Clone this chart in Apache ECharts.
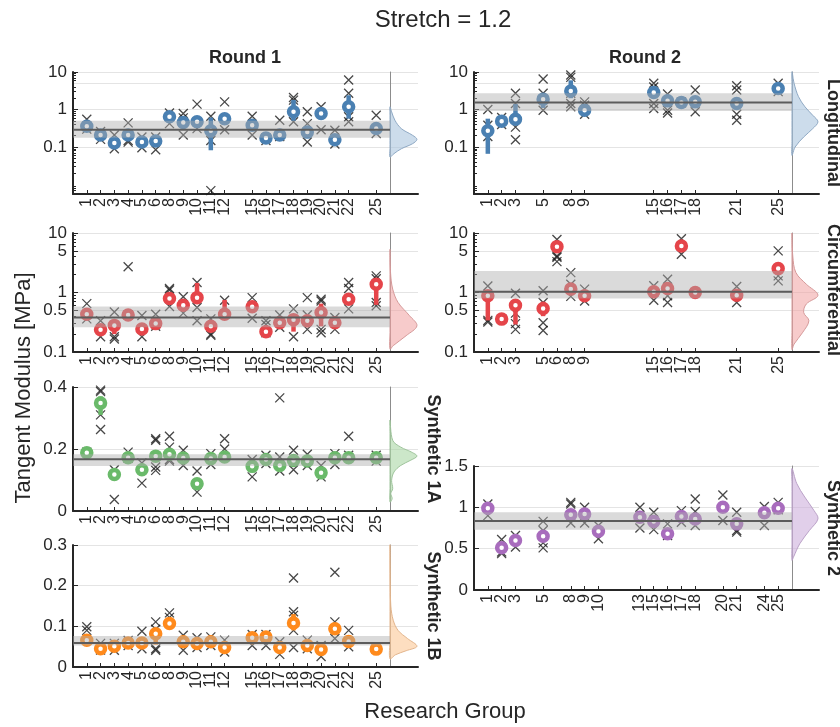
<!DOCTYPE html>
<html><head><meta charset="utf-8">
<script src="https://cdn.jsdelivr.net/npm/echarts@6/dist/echarts.min.js"></script>
<style>html,body{margin:0;padding:0;background:#fff}#c{width:840px;height:727px}</style>
</head><body><div id="c"></div>
<script>
// ---------------- DATA ----------------
const categories = ['1','2','3','4','5','6','8','9','10','11','12','13','15','16','17','18','19','20','21','22','24','25'];

const round1Groups = ['1','2','3','4','5','6','8','9','10','11','12','15','16','17','18','19','20','21','22','25'];
const round2LongGroups = ['1','2','3','5','8','9','15','16','17','18','21','25'];
const round2CircGroups = ['1','2','3','5','6','8','9','15','16','17','18','21','25'];
const synth2Groups = ['1','2','3','5','8','9','10','13','15','16','17','18','20','21','24','25'];

const logTicksLong = [0.1, 1, 5, 10];
const logTicksCirc = [0.1, 0.5, 1, 5, 10];

// Round 1 - Longitudinal
const r1LongMeans = [0.36,0.21,0.128,0.21,0.136,0.145,0.64,0.45,0.47,0.27,0.57,0.38,0.174,0.21,0.87,0.25,0.78,0.157,1.18,0.31];
const r1LongSamples = [[0.55,0.30,0.36],[0.26,0.16],[0.21,0.09],[0.44,0.15,0.135],[0.185,0.096],[0.185,0.085],[0.81,0.42],[0.78,0.6,0.21],[1.39,0.31],[0.66,0.15,0.0069],[1.6,0.29],[0.66,0.21],[0.174,0.15],[0.52,0.19],[2.1,1.78,0.47],[0.87,0.42,0.136],[1.18,0.29],[0.28,0.12],[6.1,2.7,0.64,0.47],[0.7,0.23]];
const r1LongBars = [['11',0.082,0.61],['18',0.5,1.8],['22',0.57,2.4]];
const r1LongBand = [0.178, 0.29, 0.50];
const r1LongViolin = [[1.18,0],[0.87,0.06],[0.52,0.18],[0.31,0.42],[0.205,0.84],[0.16,1],[0.123,0.84],[0.09,0.42],[0.066,0.14],[0.054,0]];

// Round 2 - Longitudinal
const r2LongMeans = [0.27,0.49,0.55,1.89,3.1,0.96,2.85,1.7,1.54,1.6,1.45,3.65];
const r2LongSamples = [[1.0,0.38,0.19],[0.61,0.4],[2.7,1.45,0.34,0.157],[6.5,2.7,0.96],[8.3,7.2,2.7,1.45,1.18],[1.6,1.3,0.75],[5.0,4.0,1.45,1.06],[2.6,0.96,0.81],[1.6,1.5],[3.3,0.87],[4.3,3.3,0.75,0.52],[5.0,3.0]];
const r2LongBars = [['1',0.066,0.57],['3',0.5,1.4],['5',1.1,2.0],['8',2.0,6.0]];
const r2LongBand = [0.92, 1.54, 2.7];
const r2LongViolin = [[10.2,0],[5,0.08],[2.2,0.25],[1.18,0.5],[0.7,0.8],[0.47,1],[0.31,0.8],[0.185,0.45],[0.1,0.12],[0.06,0]];

// Round 1 - Circumferential
const r1CircMeans = [0.43,0.237,0.28,0.42,0.243,0.30,0.79,0.61,0.82,0.27,0.43,0.575,0.22,0.31,0.35,0.335,0.46,0.31,0.77,1.38];
const r1CircSamples = [[0.65,0.36],[0.335,0.18],[0.47,0.18,0.165],[2.7,0.42],[0.41,0.18],[0.43,0.27],[1.17,1.1,0.58],[0.85,0.45],[1.47,0.56,0.335],[0.36,0.2,0.19],[0.74,0.43],[0.82,0.37],[0.335,0.29,0.21],[0.42,0.26],[0.53,0.18],[0.82,0.42,0.24],[0.77,0.72,0.24,0.21],[0.38,0.24],[1.47,1.17,0.53],[1.9,1.7,0.68,0.6]];
const r1CircBars = [['3',0.2,0.28],['10',0.82,1.45],['12',0.43,0.75],['18',0.22,0.35],['20',0.27,0.65],['25',0.62,1.38]];
const r1CircBand = [0.26, 0.38, 0.58];
const r1CircViolin = [[5.3,0],[2.16,0.02],[1.14,0.1],[0.68,0.3],[0.41,0.72],[0.276,1],[0.188,0.6],[0.128,0.12],[0.112,0]];

// Round 2 - Circumferential
const r2CircMeans = [0.88,0.357,0.61,0.54,5.9,1.14,0.88,1.03,1.17,6.05,1.0,0.9,2.52];
const r2CircSamples = [[1.29,0.34,0.32],[0.36],[0.97,0.45,0.3,0.24],[1.07,0.68,0.31,0.23],[7.8,4.1,3.9,3.3],[2.16,1.38,0.86],[1.14,0.72],[1.3,0.74],[1.67,0.88,0.68],[8.0,4.4],[1.0],[1.26,0.68],[5.0,1.9,1.57]];
const r2CircBars = [['1',0.34,0.88],['3',0.29,0.61],['5',0.4,0.7]];
const r2CircBand = [0.79, 1.03, 2.3];
const r2CircViolin = [[10,0],[4.1,0.03],[2.16,0.15],[1.38,0.55],[0.9,1],[0.64,0.55],[0.46,0.45],[0.335,0.65],[0.21,0.4],[0.136,0.08],[0.11,0]];

// Round 1 - Synthetic 1A
const s1aMeans = [0.188,0.348,0.118,0.172,0.133,0.177,0.183,0.171,0.088,0.169,0.174,0.144,0.166,0.147,0.163,0.161,0.123,0.172,0.172,0.172];
const s1aSamples = [[0.19],[0.39,0.385,0.31,0.263],[0.133,0.037],[0.19,0.17],[0.155,0.09],[0.233,0.228,0.142,0.131],[0.241,0.206,0.166,0.161],[0.196,0.147],[0.129,0.061],[0.185,0.15],[0.233,0.2],[0.166,0.11],[0.18,0.153],[0.365,0.174,0.129],[0.196,0.133],[0.183,0.147],[0.147,0.11],[0.185,0.15],[0.241,0.18],[0.18,0.161]];
const s1aBars = [['2',0.31,0.37]];
const s1aBand = [0.145, 0.167, 0.183];
const s1aViolin = [[0.293,0],[0.228,0.1],[0.206,0.4],[0.19,0.8],[0.177,1],[0.163,0.75],[0.147,0.4],[0.126,0.15],[0.099,0.06],[0.072,0.1],[0.056,0.03],[0.04,0.08],[0.029,0]];

// Round 1 - Synthetic 1B
const s1bMeans = [0.066,0.045,0.051,0.059,0.059,0.082,0.107,0.062,0.058,0.062,0.048,0.072,0.074,0.048,0.108,0.053,0.043,0.094,0.063,0.044];
const s1bSamples = [[0.099,0.09],[0.058,0.042],[0.058,0.041],[0.065,0.053],[0.088,0.045],[0.111,0.093,0.045,0.041],[0.133,0.122],[0.078,0.041],[0.072,0.048],[0.074,0.053],[0.066,0.037],[0.08,0.053],[0.08,0.053],[0.062,0.031],[0.219,0.136,0.127,0.09,0.048],[0.066,0.045],[0.053,0.026],[0.233,0.111,0.07],[0.09,0.05],[0.044]];
const s1bBars = [['6',0.055,0.082],['18',0.09,0.13]];
const s1bBand = [0.053, 0.059, 0.076];
const s1bViolin = [[0.3,0],[0.2,0.01],[0.15,0.03],[0.115,0.12],[0.09,0.3],[0.07,0.65],[0.051,1],[0.04,0.6],[0.03,0.2],[0.02,0]];

// Round 2 - Synthetic 2
const s2Means = [0.99,0.51,0.60,0.65,0.91,0.92,0.71,0.88,0.83,0.68,0.89,0.86,1.0,0.80,0.935,0.99];
const s2Samples = [[1.04,0.9],[0.61,0.46,0.44],[0.66,0.52],[0.83,0.72,0.57,0.51],[1.06,1.04,0.81],[1.0,0.81],[0.78,0.62],[1.0,0.75],[0.94,0.73],[0.8,0.66],[0.96,0.82],[1.1,0.95,0.78],[1.15,0.84],[0.94,0.72,0.70],[1.01,0.78],[1.06,0.97]];
const s2Bars = [];
const s2Band = [0.73, 0.835, 0.94];
const s2Violin = [[1.47,0],[1.29,0.18],[1.125,0.49],[0.96,0.85],[0.86,1],[0.72,0.67],[0.56,0.3],[0.4,0.06],[0.36,0]];

// ---------------- STYLE / LAYOUT ----------------
const FONT = '"Liberation Sans", Arial, Helvetica, sans-serif';
const INK = '#262626';
const GRIDC = '#e4e4e4';
const COL = {
  blue:   {c:'#4a80b2', f:'rgba(170,196,222,0.6)', e:'#8fa9c4'},
  red:    {c:'#e5454a', f:'rgba(240,160,160,0.55)', e:'#d69a9a'},
  green:  {c:'#6aba6a', f:'rgba(170,215,165,0.6)', e:'#9fc49c'},
  orange: {c:'#ff8a1c', f:'rgba(252,200,150,0.6)', e:'#e3b58c'},
  purple: {c:'#a86cbd', f:'rgba(205,175,220,0.6)', e:'#bba2c8'}
};
const yLong = {type:'log', min:0.0056, max:10, ticks:logTicksLong};
const yCirc = {type:'log', min:0.1, max:10, ticks:logTicksCirc};

const panels = [
  {groups:round1Groups, means:r1LongMeans, samples:r1LongSamples, bars:r1LongBars, band:r1LongBand, violin:r1LongViolin, col:COL.blue, y:yLong, box:[73,72,390,418,194]},
  {groups:round2LongGroups, means:r2LongMeans, samples:r2LongSamples, bars:r2LongBars, band:r2LongBand, violin:r2LongViolin, col:COL.blue, y:yLong, box:[474,72,792,819,194]},
  {groups:round1Groups, means:r1CircMeans, samples:r1CircSamples, bars:r1CircBars, band:r1CircBand, violin:r1CircViolin, col:COL.red, y:yCirc, box:[73,233,390,418,352]},
  {groups:round2CircGroups, means:r2CircMeans, samples:r2CircSamples, bars:r2CircBars, band:r2CircBand, violin:r2CircViolin, col:COL.red, y:yCirc, box:[474,233,792,819,352]},
  {groups:round1Groups, means:s1aMeans, samples:s1aSamples, bars:s1aBars, band:s1aBand, violin:s1aViolin, col:COL.green, y:{type:'value',min:0,max:0.4,interval:0.2}, box:[73,387,390,418,511]},
  {groups:round1Groups, means:s1bMeans, samples:s1bSamples, bars:s1bBars, band:s1bBand, violin:s1bViolin, col:COL.orange, y:{type:'value',min:0,max:0.3,interval:0.1}, box:[73,545,390,418,667]},
  {groups:synth2Groups, means:s2Means, samples:s2Samples, bars:s2Bars, band:s2Band, violin:s2Violin, col:COL.purple, y:{type:'value',min:0,max:1.5,interval:0.5}, box:[474,466,792,819,590]}
];

const XPATH = 'path://M0,0L10,10M10,0L0,10';
const idxOf = g => categories.indexOf(g);
const fmtNum = v => String(+(+v).toPrecision(3));

function logMinor(min, max, majors) {
  const out = [];
  for (let k = -3; k <= 1; k++) for (let m = 2; m <= 9; m++) {
    const v = +(m * Math.pow(10, k)).toPrecision(3);
    if (v > min && v < max && !majors.some(t => Math.abs(t - v) < 1e-9)) out.push(v);
  }
  return out;
}

const grid = [], xAxis = [], yAxis = [], series = [];

function xLabelCfg(vals) {
  return {show:true, customValues:vals, rotate:90, margin:4, fontSize:16, fontFamily:FONT, color:INK,
    showMinLabel:true, showMaxLabel:true, hideOverlap:false,
    formatter: v => categories[Math.round(v)]};
}

panels.forEach(p => {
  const [l, t, r, vr, b] = p.box;
  const gMain = grid.length;
  grid.push({left:l, top:t, width:r - l, height:b - t});
  const gV = grid.length;
  grid.push({left:r, top:t, width:vr - r, height:b - t});
  const idxs = p.groups.map(idxOf);
  // labels split over two coincident axes so neighbouring rotated labels are never auto-hidden
  const idxA = idxs.filter((_, i) => i % 2 === 0);
  const idxB = idxs.filter((_, i) => i % 2 === 1);

  const xMain = xAxis.length;
  xAxis.push({type:'value', gridIndex:gMain, min:-1, max:22, position:'bottom',
    axisLine:{show:true, onZero:false, lineStyle:{color:INK, width:2}},
    axisTick:{show:true, inside:true, length:4, customValues:idxs, lineStyle:{color:INK, width:1}},
    axisLabel:xLabelCfg(idxA),
    splitLine:{show:false}});
  xAxis.push({type:'value', gridIndex:gMain, min:-1, max:22, position:'bottom', offset:0,
    axisLine:{show:false, onZero:false},
    axisTick:{show:false, customValues:idxB},
    axisLabel:xLabelCfg(idxB),
    splitLine:{show:false}});
  const xV = xAxis.length;
  xAxis.push({type:'value', gridIndex:gV, min:0, max:1.04,
    axisLine:{show:true, onZero:false, lineStyle:{color:INK, width:2}},
    axisTick:{show:false}, axisLabel:{show:false}, splitLine:{show:false}});

  const yc = p.y;
  const base = {gridIndex:gMain, min:yc.min, max:yc.max, position:'left'};
  if (yc.type === 'log') { base.type = 'log'; base.logBase = 10; } else { base.type = 'value'; base.interval = yc.interval; }
  const yMain = yAxis.length;
  const yMainAxis = Object.assign({}, base, {
    axisLine:{show:true, onZero:false, lineStyle:{color:INK, width:2}},
    axisTick:{show:true, inside:true, length:5, lineStyle:{color:INK, width:1}},
    axisLabel:{show:true, margin:6, fontSize:17, fontFamily:FONT, color:INK,
      showMinLabel:true, showMaxLabel:true, hideOverlap:false, formatter: v => fmtNum(v)},
    splitLine:{show:true, lineStyle:{color:GRIDC, width:1}}
  });
  if (yc.ticks) { yMainAxis.axisTick.customValues = yc.ticks; yMainAxis.axisLabel.customValues = yc.ticks; }
  yAxis.push(yMainAxis);
  if (yc.type === 'log') {
    yAxis.push(Object.assign({}, base, {
      axisLine:{show:false, onZero:false}, axisLabel:{show:false}, splitLine:{show:false},
      axisTick:{show:true, inside:true, length:3, customValues:logMinor(yc.min, yc.max, yc.ticks), lineStyle:{color:INK, width:1}}
    }));
  }
  const yV = yAxis.length;
  const vAxis = Object.assign({}, base, {gridIndex:gV,
    axisLine:{show:true, onZero:false, lineStyle:{color:'#8c8c8c', width:1}},
    axisTick:{show:false}, axisLabel:{show:false},
    splitLine:{show:true, lineStyle:{color:GRIDC, width:1}}});
  if (yc.ticks) vAxis.axisTick = {show:false, customValues:yc.ticks};
  yAxis.push(vAxis);

  const color = p.col.c;
  // individual samples (crosses)
  const crossData = [];
  p.groups.forEach((g, i) => p.samples[i].forEach(v => crossData.push([idxOf(g), v])));
  series.push({type:'scatter', xAxisIndex:xMain, yAxisIndex:yMain, z:2, silent:true,
    symbol:XPATH, symbolSize:9,
    itemStyle:{color:'rgba(0,0,0,0)', borderColor:'#1a1a1a', borderWidth:1.3},
    data:crossData});
  // range bars
  series.push({type:'custom', xAxisIndex:xMain, yAxisIndex:yMain, z:3, silent:true,
    data:p.bars.map(bb => [idxOf(bb[0]), bb[1], bb[2]]),
    encode:{x:0, y:[1,2]},
    renderItem:(params, api) => {
      const p1 = api.coord([api.value(0), api.value(1)]);
      const p2 = api.coord([api.value(0), api.value(2)]);
      return {type:'line', shape:{x1:p1[0], y1:p1[1], x2:p2[0], y2:p2[1]}, style:{stroke:color, lineWidth:4.5}};
    }});
  // group means (rings)
  series.push({type:'scatter', xAxisIndex:xMain, yAxisIndex:yMain, z:4, silent:true,
    symbol:'circle', symbolSize:9,
    itemStyle:{color:'#ffffff', borderColor:color, borderWidth:4.5, opacity:1},
    data:p.groups.map((g, i) => [idxOf(g), p.means[i]])});
  // overall band + mean line (drawn on top, translucent)
  series.push({type:'custom', xAxisIndex:xMain, yAxisIndex:yMain, z:6, silent:true,
    data:[[0, p.band[0], p.band[1], p.band[2]]],
    encode:{x:0, y:[1,2,3]},
    renderItem:(params, api) => {
      const cs = params.coordSys;
      const lo = api.coord([0, api.value(1)]), me = api.coord([0, api.value(2)]), hi = api.coord([0, api.value(3)]);
      return {type:'group', children:[
        {type:'rect', shape:{x:cs.x, y:hi[1], width:cs.width, height:lo[1] - hi[1]}, style:{fill:'rgba(172,172,172,0.45)'}},
        {type:'line', shape:{x1:cs.x, y1:me[1], x2:cs.x + cs.width, y2:me[1]}, style:{stroke:'#5c5c5c', lineWidth:2}}
      ]};
    }});
  // violin (half density)
  const vio = p.violin, vc = p.col;
  series.push({type:'custom', xAxisIndex:xV, yAxisIndex:yV, z:3, silent:true,
    data:[[0, vio[0][0]]],
    renderItem:(params, api) => {
      const pts = vio.map(d => api.coord([d[1], d[0]]));
      const top = pts[0], bot = pts[pts.length - 1];
      const n = 6, basePts = [];
      for (let k = 1; k < n; k++) basePts.push([bot[0], bot[1] + (top[1] - bot[1]) * k / n]);
      return {type:'polygon', shape:{points:pts.concat(basePts), smooth:0.35},
        style:{fill:vc.f, stroke:vc.e, lineWidth:1}};
    }});
});

const txt = (text, x, y, size, weight, rot) => ({type:'text', x, y, rotation:rot || 0, silent:true,
  style:{text, fontSize:size, fontWeight:weight || 'normal', fontFamily:FONT, fill:INK,
    align:'center', verticalAlign:'middle', textAlign:'center', textVerticalAlign:'middle'}});

const graphic = [
  txt('Stretch = 1.2', 443, 20, 24),
  txt('Round 1', 245, 58, 18, 'bold'),
  txt('Round 2', 645, 58, 18, 'bold'),
  txt('Longitudinal', 833, 133, 18, 'bold', -Math.PI / 2),
  txt('Circumferential', 833, 290, 18, 'bold', -Math.PI / 2),
  txt('Synthetic 1A', 433, 449, 18, 'bold', -Math.PI / 2),
  txt('Synthetic 1B', 433, 606, 18, 'bold', -Math.PI / 2),
  txt('Synthetic 2', 833, 528, 18, 'bold', -Math.PI / 2),
  txt('Tangent Modulus [MPa]', 24, 388, 22, 'normal', Math.PI / 2),
  txt('Research Group', 445, 712, 22)
];

const chart = echarts.init(document.getElementById('c'), null, {renderer:'canvas'});
chart.setOption({animation:false, backgroundColor:'#ffffff', grid, xAxis, yAxis, series, graphic});
</script>
</body></html>
